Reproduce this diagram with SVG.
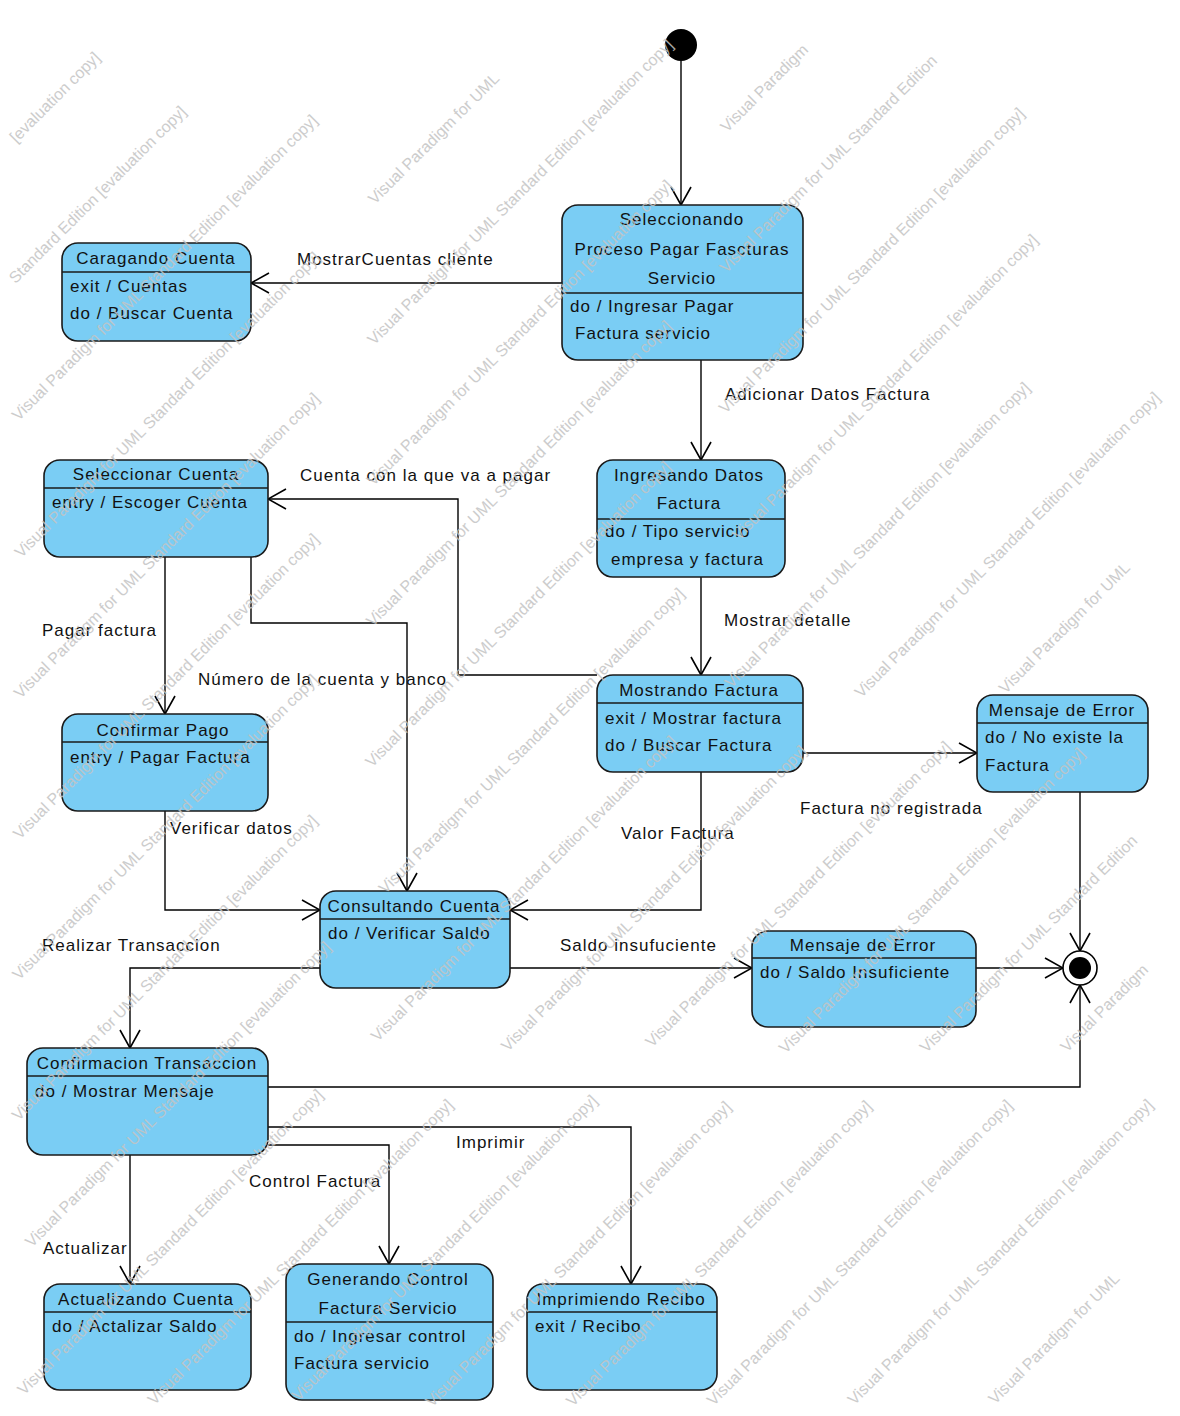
<svg xmlns="http://www.w3.org/2000/svg" width="1180" height="1416" viewBox="0 0 1180 1416">
<defs>
<marker id="arr" markerUnits="userSpaceOnUse" markerWidth="20" markerHeight="22" viewBox="0 0 20 22" refX="19" refY="11" orient="auto">
<path d="M1,1 L19,11 L1,21" fill="none" stroke="#000" stroke-width="1.6"/>
</marker>
</defs>
<style>
.bg{fill:#fff}
.st{fill:#7acdf4;stroke:#1a1a1a;stroke-width:1.6}
.dv{stroke:#1a1a1a;stroke-width:1.6}
text{font-family:"Liberation Sans",Arial,sans-serif;font-size:17px;fill:#111;letter-spacing:1px}
.h{text-anchor:middle}
.wm{font-size:16px;fill:#c4c4c4;letter-spacing:0}
.cn{fill:none;stroke:#000;stroke-width:1.4;marker-end:url(#arr)}
</style>
<rect class="bg" x="0" y="0" width="1180" height="1416"/>

<g id="connectors">
<path class="cn" d="M681,61 V205"/>
<path class="cn" d="M562,283 H251"/>
<path class="cn" d="M701,360 V460"/>
<path class="cn" d="M701,577 V675"/>
<path class="cn" d="M597,675 H458 V499 H268"/>
<path class="cn" d="M165,557 V714"/>
<path class="cn" d="M251,557 V623 H407 V891"/>
<path class="cn" d="M803,753 H977"/>
<path class="cn" d="M165,811 V910 H320"/>
<path class="cn" d="M701,772 V910 H510"/>
<path class="cn" d="M510,968 H752"/>
<path class="cn" d="M976,968 H1063"/>
<path class="cn" d="M1080,792 V951"/>
<path class="cn" d="M268,1087 H1080 V985"/>
<path class="cn" d="M320,968 H130 V1048"/>
<path class="cn" d="M130,1155 V1284"/>
<path class="cn" d="M268,1145 H389 V1264"/>
<path class="cn" d="M268,1127 H631 V1284"/>
<text x="297" y="265">MostrarCuentas cliente</text>
<text x="725" y="400">Adicionar Datos Factura</text>
<text x="724" y="626">Mostrar detalle</text>
<text x="300" y="481">Cuenta con la que va a pagar</text>
<text x="42" y="636">Pagar factura</text>
<text x="198" y="685">Número de la cuenta y banco</text>
<text x="800" y="814">Factura no registrada</text>
<text x="170" y="834">Verificar datos</text>
<text x="621" y="839">Valor Factura</text>
<text x="560" y="951">Saldo insufuciente</text>
<text x="42" y="951">Realizar Transaccion</text>
<text x="43" y="1254">Actualizar</text>
<text x="249" y="1187">Control Factura</text>
<text x="456" y="1148">Imprimir</text>
</g>

<g id="initial"><circle cx="681" cy="45" r="16" fill="#000"/></g>

<g id="final">
<circle cx="1080" cy="968" r="17" fill="#fff" stroke="#000" stroke-width="1.6"/>
<circle cx="1080" cy="968" r="11" fill="#000"/>
</g>

<g id="seleccionando">
<rect class="st" x="562" y="205" width="241" height="155" rx="16"/>
<line class="dv" x1="562" y1="293" x2="803" y2="293"/>
<text class="h" x="682" y="225">Seleccionando</text>
<text class="h" x="682" y="255">Proceso Pagar Fascturas</text>
<text class="h" x="682" y="284">Servicio</text>
<text x="570" y="312">do / Ingresar Pagar</text>
<text x="575" y="339">Factura servicio</text>
</g>

<g id="caragando">
<rect class="st" x="62" y="243" width="189" height="98" rx="16"/>
<line class="dv" x1="62" y1="272" x2="251" y2="272"/>
<text class="h" x="156" y="264">Caragando Cuenta</text>
<text x="70" y="292">exit / Cuentas</text>
<text x="70" y="319">do / Buscar Cuenta</text>
</g>

<g id="seleccionar">
<rect class="st" x="44" y="460" width="224" height="97" rx="16"/>
<line class="dv" x1="44" y1="488" x2="268" y2="488"/>
<text class="h" x="156" y="480">Seleccionar Cuenta</text>
<text x="52" y="508">entry / Escoger Cuenta</text>
</g>

<g id="ingresando">
<rect class="st" x="597" y="460" width="188" height="117" rx="16"/>
<line class="dv" x1="597" y1="519" x2="785" y2="519"/>
<text class="h" x="689" y="481">Ingresando Datos</text>
<text class="h" x="689" y="509">Factura</text>
<text x="605" y="537">do / Tipo servicio</text>
<text x="611" y="565">empresa y factura</text>
</g>

<g id="mostrando">
<rect class="st" x="597" y="675" width="206" height="97" rx="16"/>
<line class="dv" x1="597" y1="703" x2="803" y2="703"/>
<text class="h" x="699" y="696">Mostrando Factura</text>
<text x="605" y="724">exit / Mostrar factura</text>
<text x="605" y="751">do / Buscar Factura</text>
</g>

<g id="error1">
<rect class="st" x="977" y="695" width="171" height="97" rx="16"/>
<line class="dv" x1="977" y1="723" x2="1148" y2="723"/>
<text class="h" x="1062" y="716">Mensaje de Error</text>
<text x="985" y="743">do / No existe la</text>
<text x="985" y="771">Factura</text>
</g>

<g id="confirmar">
<rect class="st" x="62" y="714" width="206" height="97" rx="16"/>
<line class="dv" x1="62" y1="742" x2="268" y2="742"/>
<text class="h" x="163" y="736">Confirmar Pago</text>
<text x="70" y="763">entry / Pagar Factura</text>
</g>

<g id="consultando">
<rect class="st" x="320" y="891" width="190" height="97" rx="16"/>
<line class="dv" x1="320" y1="919" x2="510" y2="919"/>
<text class="h" x="414" y="912">Consultando Cuenta</text>
<text x="328" y="939">do / Verificar Saldo</text>
</g>

<g id="error2">
<rect class="st" x="752" y="931" width="224" height="96" rx="16"/>
<line class="dv" x1="752" y1="958" x2="976" y2="958"/>
<text class="h" x="863" y="951">Mensaje de Error</text>
<text x="760" y="978">do / Saldo Insuficiente</text>
</g>

<g id="confirmacion">
<rect class="st" x="27" y="1048" width="241" height="107" rx="16"/>
<line class="dv" x1="27" y1="1076" x2="268" y2="1076"/>
<text class="h" x="147" y="1069">Confirmacion Transaccion</text>
<text x="35" y="1097">do / Mostrar Mensaje</text>
</g>

<g id="actualizando">
<rect class="st" x="44" y="1284" width="207" height="106" rx="16"/>
<line class="dv" x1="44" y1="1312" x2="251" y2="1312"/>
<text class="h" x="146" y="1305">Actualizando Cuenta</text>
<text x="52" y="1332">do / Actalizar Saldo</text>
</g>

<g id="generando">
<rect class="st" x="286" y="1264" width="207" height="136" rx="16"/>
<line class="dv" x1="286" y1="1322" x2="493" y2="1322"/>
<text class="h" x="388" y="1285">Generando Control</text>
<text class="h" x="388" y="1314">Factura Servicio</text>
<text x="294" y="1342">do / Ingresar control</text>
<text x="294" y="1369">Factura servicio</text>
</g>

<g id="imprimiendo">
<rect class="st" x="527" y="1284" width="190" height="106" rx="16"/>
<line class="dv" x1="527" y1="1312" x2="717" y2="1312"/>
<text class="h" x="621" y="1305">Imprimiendo Recibo</text>
<text x="535" y="1332">exit / Recibo</text>
</g>

<g id="watermark" transform="rotate(-45)" opacity="0.85">
<text class="wm" x="-90" y="113">[evaluation copy]</text>
<text class="wm" x="-190" y="212">Standard Edition [evaluation copy]</text>
<text class="wm" x="-285" y="311">Visual Paradigm for UML Standard Edition [evaluation copy]</text>
<text class="wm" x="-380" y="410">Visual Paradigm for UML Standard Edition [evaluation copy]</text>
<text class="wm" x="120" y="410">Visual Paradigm for UML</text>
<text class="wm" x="-480" y="509">Visual Paradigm for UML Standard Edition [evaluation copy]</text>
<text class="wm" x="20" y="509">Visual Paradigm for UML Standard Edition [evaluation copy]</text>
<text class="wm" x="-580" y="608">Visual Paradigm for UML Standard Edition [evaluation copy]</text>
<text class="wm" x="-80" y="608">Visual Paradigm for UML Standard Edition [evaluation copy]</text>
<text class="wm" x="420" y="608">Visual Paradigm</text>
<text class="wm" x="-680" y="707">Visual Paradigm for UML Standard Edition [evaluation copy]</text>
<text class="wm" x="-180" y="707">Visual Paradigm for UML Standard Edition [evaluation copy]</text>
<text class="wm" x="320" y="707">Visual Paradigm for UML Standard Edition</text>
<text class="wm" x="-780" y="806">Visual Paradigm for UML Standard Edition [evaluation copy]</text>
<text class="wm" x="-280" y="806">Visual Paradigm for UML Standard Edition [evaluation copy]</text>
<text class="wm" x="220" y="806">Visual Paradigm for UML Standard Edition [evaluation copy]</text>
<text class="wm" x="-860" y="905">Visual Paradigm for UML Standard Edition [evaluation copy]</text>
<text class="wm" x="-360" y="905">Visual Paradigm for UML Standard Edition [evaluation copy]</text>
<text class="wm" x="140" y="905">Visual Paradigm for UML Standard Edition [evaluation copy]</text>
<text class="wm" x="-970" y="1004">Visual Paradigm for UML Standard Edition [evaluation copy]</text>
<text class="wm" x="-470" y="1004">Visual Paradigm for UML Standard Edition [evaluation copy]</text>
<text class="wm" x="30" y="1004">Visual Paradigm for UML Standard Edition [evaluation copy]</text>
<text class="wm" x="-885" y="1103">Visual Paradigm for UML Standard Edition [evaluation copy]</text>
<text class="wm" x="-385" y="1103">Visual Paradigm for UML Standard Edition [evaluation copy]</text>
<text class="wm" x="115" y="1103">Visual Paradigm for UML Standard Edition [evaluation copy]</text>
<text class="wm" x="-780" y="1202">Visual Paradigm for UML Standard Edition [evaluation copy]</text>
<text class="wm" x="-280" y="1202">Visual Paradigm for UML Standard Edition [evaluation copy]</text>
<text class="wm" x="220" y="1202">Visual Paradigm for UML</text>
<text class="wm" x="-690" y="1301">Visual Paradigm for UML Standard Edition [evaluation copy]</text>
<text class="wm" x="-190" y="1301">Visual Paradigm for UML Standard Edition [evaluation copy]</text>
<text class="wm" x="-590" y="1400">Visual Paradigm for UML Standard Edition [evaluation copy]</text>
<text class="wm" x="-90" y="1400">Visual Paradigm for UML Standard Edition</text>
<text class="wm" x="-490" y="1499">Visual Paradigm for UML Standard Edition [evaluation copy]</text>
<text class="wm" x="10" y="1499">Visual Paradigm</text>
<text class="wm" x="-390" y="1598">Visual Paradigm for UML Standard Edition [evaluation copy]</text>
<text class="wm" x="-290" y="1697">Visual Paradigm for UML</text>
</g>
</svg>
